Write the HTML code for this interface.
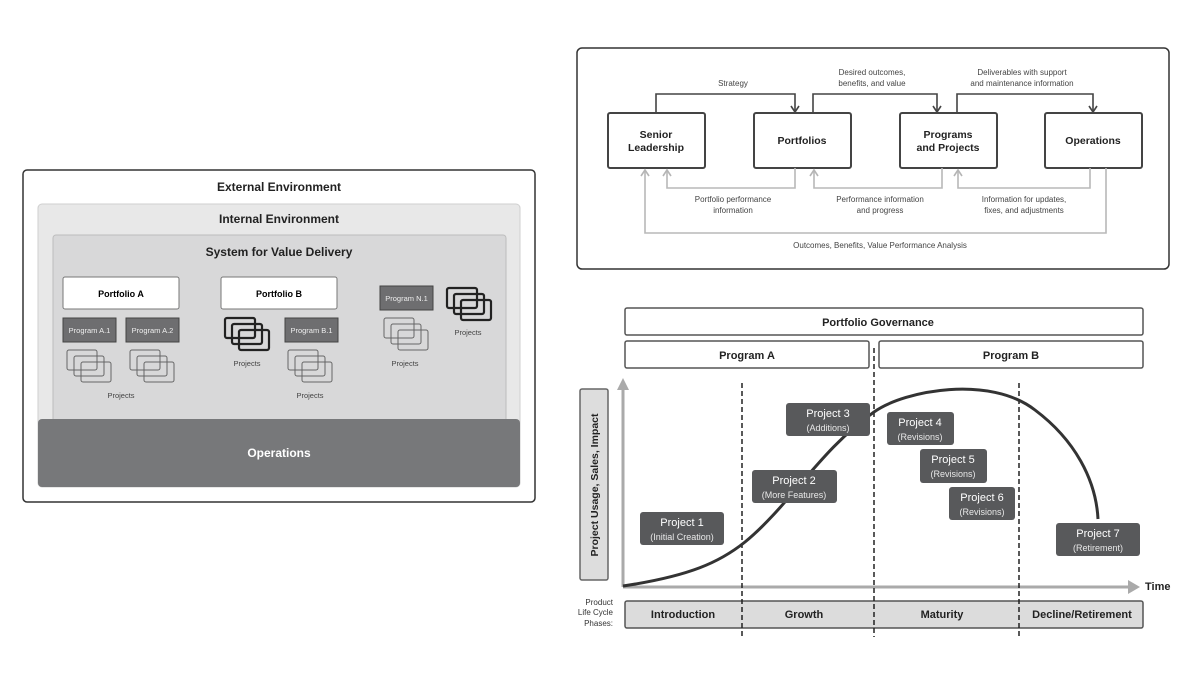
<!DOCTYPE html>
<html><head><meta charset="utf-8"><style>
html,body{margin:0;padding:0;background:#fff;}
svg{display:block;font-family:"Liberation Sans",sans-serif;}
.b{font-weight:bold;}
</style></head><body>
<svg width="1200" height="675" viewBox="0 0 1200 675" xmlns="http://www.w3.org/2000/svg">
<defs>
<marker id="ad" markerWidth="10" markerHeight="10" refX="8" refY="5" orient="auto" markerUnits="userSpaceOnUse"><path d="M2,1 L8,5 L2,9" fill="none" stroke="#444" stroke-width="1.6"/></marker>
<marker id="ag" markerWidth="10" markerHeight="10" refX="8" refY="5" orient="auto" markerUnits="userSpaceOnUse"><path d="M2,1 L8,5 L2,9" fill="none" stroke="#b5b5b5" stroke-width="1.6"/></marker>
<g id="stk"><rect x="0" y="0" width="30" height="20" rx="2" fill="none"/><rect x="7" y="6" width="30" height="20" rx="2" fill="none"/><rect x="14" y="12" width="30" height="20" rx="2" fill="none"/></g>
</defs>

<!-- LEFT DIAGRAM -->
<rect x="23" y="170" width="512" height="332" rx="4" fill="#fff" stroke="#333" stroke-width="1.5"/>
<text x="279" y="191" text-anchor="middle" font-size="12" class="b" fill="#222">External Environment</text>
<rect x="38" y="204" width="482" height="283" rx="4" fill="#e8e8e8" stroke="#cfcfcf"/>
<text x="279" y="223" text-anchor="middle" font-size="12" class="b" fill="#222">Internal Environment</text>
<rect x="53" y="235" width="453" height="200" rx="3" fill="#d8d8d9" stroke="#bdbdbd"/>
<text x="279" y="256" text-anchor="middle" font-size="12" class="b" fill="#222">System for Value Delivery</text>
<rect x="38" y="419" width="482" height="68" rx="4" fill="#77787a"/>
<text x="279" y="457" text-anchor="middle" font-size="12" class="b" fill="#fff">Operations</text>

<rect x="63" y="277" width="116" height="32" rx="2" fill="#fff" stroke="#777"/>
<text x="121" y="297" text-anchor="middle" font-size="9" class="b">Portfolio A</text>
<rect x="221" y="277" width="116" height="32" rx="2" fill="#fff" stroke="#777"/>
<text x="279" y="297" text-anchor="middle" font-size="9" class="b">Portfolio B</text>

<g font-size="7.5" fill="#eee" text-anchor="middle">
<rect x="63" y="318" width="53" height="24" fill="#6e6e70" stroke="#444"/><text x="89.5" y="333">Program A.1</text>
<rect x="126" y="318" width="53" height="24" fill="#6e6e70" stroke="#444"/><text x="152.5" y="333">Program A.2</text>
<rect x="285" y="318" width="53" height="24" fill="#6e6e70" stroke="#444"/><text x="311.5" y="333">Program B.1</text>
<rect x="380" y="286" width="53" height="24" fill="#6e6e70" stroke="#444"/><text x="406.5" y="301">Program N.1</text>
</g>
<g stroke="#666" stroke-width="1">
<use href="#stk" x="67" y="350"/><use href="#stk" x="130" y="350"/><use href="#stk" x="288" y="350"/><use href="#stk" x="384" y="318"/>
</g>
<g stroke="#222" stroke-width="2.2">
<use href="#stk" x="225" y="318"/><use href="#stk" x="447" y="288"/>
</g>
<g font-size="7.5" fill="#444" text-anchor="middle">
<text x="121" y="398">Projects</text><text x="310" y="398">Projects</text>
<text x="247" y="366">Projects</text><text x="405" y="366">Projects</text><text x="468" y="335">Projects</text>
</g>

<!-- TOP RIGHT -->
<rect x="577" y="48" width="592" height="221" rx="5" fill="#fff" stroke="#333" stroke-width="1.5"/>
<g fill="#fff" stroke="#444" stroke-width="2">
<rect x="608" y="113" width="97" height="55" rx="2"/>
<rect x="754" y="113" width="97" height="55" rx="2"/>
<rect x="900" y="113" width="97" height="55" rx="2"/>
<rect x="1045" y="113" width="97" height="55" rx="2"/>
</g>
<g font-size="10.5" class="b" text-anchor="middle" fill="#222">
<text x="656" y="138">Senior</text><text x="656" y="151">Leadership</text>
<text x="802" y="144">Portfolios</text>
<text x="948" y="138">Programs</text><text x="948" y="151">and Projects</text>
<text x="1093" y="144">Operations</text>
</g>
<g fill="none" stroke="#444" stroke-width="1.6">
<path d="M656,113 V94 H795 V112" marker-end="url(#ad)"/>
<path d="M813,113 V94 H937 V112" marker-end="url(#ad)"/>
<path d="M957,113 V94 H1093 V112" marker-end="url(#ad)"/>
</g>
<g fill="none" stroke="#b8b8b8" stroke-width="1.6">
<path d="M795,168 V188 H667 V170" marker-end="url(#ag)"/>
<path d="M942,168 V188 H814 V170" marker-end="url(#ag)"/>
<path d="M1090,168 V188 H958 V170" marker-end="url(#ag)"/>
<path d="M1106,168 V233 H645 V170" marker-end="url(#ag)"/>
</g>
<g font-size="8" fill="#444" text-anchor="middle">
<text x="733" y="86">Strategy</text>
<text x="872" y="75">Desired outcomes,</text><text x="872" y="86">benefits, and value</text>
<text x="1022" y="75">Deliverables with support</text><text x="1022" y="86">and maintenance information</text>
<text x="733" y="202">Portfolio performance</text><text x="733" y="213">information</text>
<text x="880" y="202">Performance information</text><text x="880" y="213">and progress</text>
<text x="1024" y="202">Information for updates,</text><text x="1024" y="213">fixes, and adjustments</text>
<text x="880" y="248">Outcomes, Benefits, Value Performance Analysis</text>
</g>

<!-- BOTTOM RIGHT -->
<g fill="#fff" stroke="#555" stroke-width="1.5">
<rect x="625" y="308" width="518" height="27" rx="2"/>
<rect x="625" y="341" width="244" height="27" rx="2"/>
<rect x="879" y="341" width="264" height="27" rx="2"/>
</g>
<g font-size="11" class="b" text-anchor="middle" fill="#222">
<text x="878" y="326">Portfolio Governance</text>
<text x="747" y="359">Program A</text>
<text x="1011" y="359">Program B</text>
</g>
<rect x="580" y="389" width="28" height="191" rx="2" fill="#ddd" stroke="#666" stroke-width="1.5"/>
<text transform="translate(598,485) rotate(-90)" text-anchor="middle" font-size="10.5" class="b" fill="#222">Project Usage, Sales, Impact</text>
<rect x="625" y="601" width="518" height="27" rx="2" fill="#dcdcdc" stroke="#555" stroke-width="1.5"/>
<g font-size="11" class="b" text-anchor="middle" fill="#222">
<text x="683" y="618">Introduction</text><text x="804" y="618">Growth</text><text x="942" y="618">Maturity</text><text x="1082" y="618">Decline/Retirement</text>
</g>
<g font-size="8" fill="#333" text-anchor="end">
<text x="613" y="605">Product</text><text x="613" y="615">Life Cycle</text><text x="613" y="626">Phases:</text>
</g>
<g stroke="#aaa" stroke-width="3" fill="#aaa">
<line x1="623" y1="587" x2="623" y2="390"/>
<line x1="623" y1="587" x2="1128" y2="587"/>
<path d="M617,390 L623,378 L629,390 Z" stroke="none"/>
<path d="M1128,580 L1140,587 L1128,594 Z" stroke="none"/>
</g>
<text x="1145" y="590" font-size="11" class="b" fill="#222">Time</text>
<g stroke="#222" stroke-width="1.5" stroke-dasharray="5,3">
<line x1="742" y1="383" x2="742" y2="637"/>
<line x1="874" y1="348" x2="874" y2="637"/>
<line x1="1019" y1="383" x2="1019" y2="637"/>
</g>
<path d="M623,586 C690,576 720,562 745,542 C790,505 820,450 874,412 C905,390 990,375 1035,410 C1075,440 1096,480 1098,519" fill="none" stroke="#333" stroke-width="3"/>
<g fill="#58595b">
<rect x="640" y="512" width="84" height="33" rx="3"/>
<rect x="752" y="470" width="85" height="33" rx="3"/>
<rect x="786" y="403" width="84" height="33" rx="3"/>
<rect x="887" y="412" width="67" height="33" rx="3"/>
<rect x="920" y="449" width="67" height="34" rx="3"/>
<rect x="949" y="487" width="66" height="33" rx="3"/>
<rect x="1056" y="523" width="84" height="33" rx="3"/>
</g>
<g text-anchor="middle" fill="#fff">
<g font-size="11"><text x="682" y="526">Project 1</text><text x="794" y="484">Project 2</text><text x="828" y="417">Project 3</text><text x="920" y="426">Project 4</text><text x="953" y="463">Project 5</text><text x="982" y="501">Project 6</text><text x="1098" y="537">Project 7</text></g>
<g font-size="9" fill="#e8e8e8"><text x="682" y="540">(Initial Creation)</text><text x="794" y="498">(More Features)</text><text x="828" y="431">(Additions)</text><text x="920" y="440">(Revisions)</text><text x="953" y="477">(Revisions)</text><text x="982" y="515">(Revisions)</text><text x="1098" y="551">(Retirement)</text></g>
</g>
</svg>
</body></html>
